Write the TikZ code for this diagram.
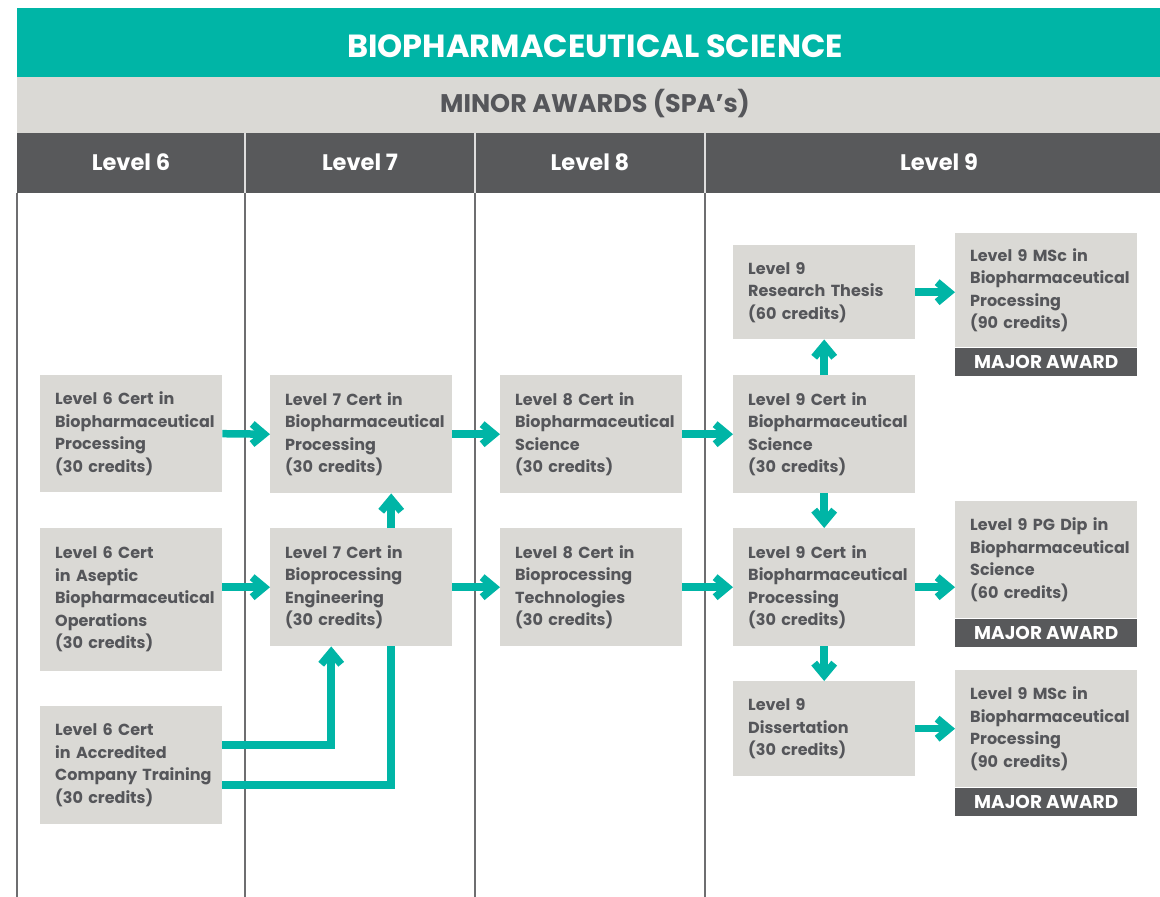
\documentclass[tikz,border=0pt]{standalone}
\usepackage{fontspec}
\setmainfont{Poppins}
\usetikzlibrary{arrows.meta,positioning}

\definecolor{teal}{RGB}{0,181,166}
\definecolor{boxgray}{RGB}{218,217,213}
\definecolor{darkgray}{RGB}{88,89,91}
\definecolor{txtgray}{RGB}{85,86,90}
\definecolor{rulegray}{RGB}{110,110,112}

\tikzset{
  cert/.style={fill=boxgray,text=txtgray,anchor=north west,align=left,
    minimum width=182pt,text width=152pt,inner xsep=15pt,inner ysep=0pt,
    font=\fontsize{16}{22.5}\selectfont\bfseries},
  award/.style={fill=darkgray,text=white,minimum width=182pt,minimum height=28pt,
    inner sep=0pt,font=\fontsize{18.5}{20}\selectfont\bfseries},
  head/.style={text=white,font=\fontsize{22.5}{26}\selectfont\bfseries},
  flow/.style={draw=teal,line width=7.5pt,-{Straight Barb[length=12pt,width=20pt]}},
  link/.style={draw=teal,line width=7.5pt}
}

\begin{document}
\begin{tikzpicture}[x=1pt,y=-1pt]
  \useasboundingbox (0,0) rectangle (1160,897);
  % bands
  \fill[teal] (17,8) rectangle (1160,77);
  \fill[boxgray] (17,77) rectangle (1160,133);
  \fill[darkgray] (17,133) rectangle (1160,193);
  \foreach \x in {245,475,705}
    \draw[white!80!darkgray,line width=1.2pt] (\x,133) -- (\x,193);
  \foreach \x in {17,245,475,705}
    \draw[rulegray,line width=1.3pt] (\x,193) -- (\x,897);
  \node[text=white,font=\fontsize{32}{36}\selectfont\bfseries] (title) at (595,46) {BIOPHARMACEUTICAL SCIENCE};
  \node[text=txtgray,font=\fontsize{25.5}{28}\selectfont\bfseries] (minor) at (595,104) {MINOR AWARDS (SPA's)};
  \node[head] (h6) at (131,162) {Level 6};
  \node[head] (h7) at (360,162) {Level 7};
  \node[head] (h8) at (590,162) {Level 8};
  \node[head] (h9) at (939,162) {Level 9};

  % level 6
  \node[cert,minimum height=117pt] (c6a) at (40,375) {Level 6 Cert in\\Biopharmaceutical\\Processing\\(30 credits)};
  \node[cert,minimum height=143pt] (c6b) at (40,528) {Level 6 Cert\\in Aseptic\\Biopharmaceutical\\Operations\\(30 credits)};
  \node[cert,minimum height=118pt] (c6c) at (40,706) {Level 6 Cert\\in Accredited\\\mbox{Company Training}\\(30 credits)};
  % level 7
  \node[cert,minimum height=118pt] (c7a) at (270,375) {Level 7 Cert in\\Biopharmaceutical\\Processing\\(30 credits)};
  \node[cert,minimum height=118pt] (c7b) at (270,528) {Level 7 Cert in\\Bioprocessing\\Engineering\\(30 credits)};
  % level 8
  \node[cert,minimum height=118pt] (c8a) at (500,375) {Level 8 Cert in\\Biopharmaceutical\\Science\\(30 credits)};
  \node[cert,minimum height=118pt] (c8b) at (500,528) {Level 8 Cert in\\Bioprocessing\\Technologies\\(30 credits)};
  % level 9
  \node[cert,minimum height=94pt] (c9t) at (733,245) {Level 9\\Research Thesis\\(60 credits)};
  \node[cert,minimum height=118pt] (c9a) at (733,375) {Level 9 Cert in\\Biopharmaceutical\\Science\\(30 credits)};
  \node[cert,minimum height=118pt] (c9b) at (733,528) {Level 9 Cert in\\Biopharmaceutical\\Processing\\(30 credits)};
  \node[cert,minimum height=95pt] (c9d) at (733,681) {Level 9\\Dissertation\\(30 credits)};
  % major awards
  \node[cert,minimum height=114pt] (m1) at (955,233) {Level 9 MSc in\\Biopharmaceutical\\Processing\\(90 credits)};
  \node[award,below=0pt of m1] (m1b) {MAJOR AWARD};
  \node[cert,minimum height=117pt] (m2) at (955,501) {Level 9 PG Dip in\\Biopharmaceutical\\Science\\(60 credits)};
  \node[award,below=0pt of m2] (m2b) {MAJOR AWARD};
  \node[cert,minimum height=117pt] (m3) at (955,670) {Level 9 MSc in\\Biopharmaceutical\\Processing\\(90 credits)};
  \node[award,below=0pt of m3] (m3b) {MAJOR AWARD};

  % arrows
  \draw[flow] (c6a.east) -- (c7a.west);
  \draw[flow] (c6b.east |- c7b.west) -- (c7b.west);
  \draw[flow] ([xshift=30pt]c7b.north) -- ([xshift=30pt]c7a.south);
  \draw[flow] (c7a.east) -- (c8a.west);
  \draw[flow] (c7b.east) -- (c8b.west);
  \draw[flow] (c8a.east) -- (c9a.west);
  \draw[flow] (c8b.east) -- (c9b.west);
  \draw[flow] (c9a.north) -- (c9t.south);
  \draw[flow] (c9a.south) -- (c9b.north);
  \draw[flow] (c9b.south) -- (c9d.north);
  \draw[flow] (c9t.east) -- (c9t.east -| m1.west);
  \draw[flow] (c9b.east) -- (c9b.east -| m2.west);
  \draw[flow] (c9d.east) -- (c9d.east -| m3.west);
  \draw[flow] ([yshift=20pt]c6c.east) -| ([xshift=-30pt]c7b.south);
  \draw[link] ([yshift=-20pt]c6c.east) -| ([xshift=30pt]c7b.south);
\end{tikzpicture}
\end{document}
